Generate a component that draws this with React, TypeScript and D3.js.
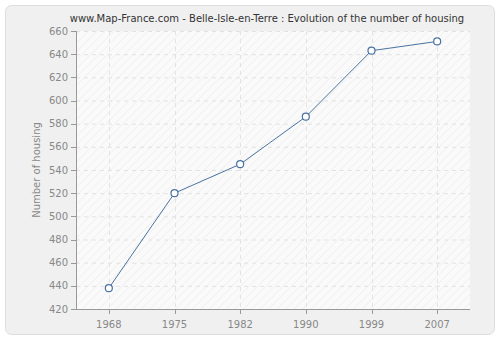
import React from "react";
import * as d3 from "d3";

const years = ["1968", "1975", "1982", "1990", "1999", "2007"];
const housing = [438, 520, 545, 586, 643, 651];
const yTicks = [420, 440, 460, 480, 500, 520, 540, 560, 580, 600, 620, 640, 660];

const W = 500, H = 340;
const left = 76, right = 470, top = 31, bottom = 309;

export default function App() {
  const x = d3.scalePoint<string>().domain(years).range([left, right]).padding(0.5);
  const y = d3.scaleLinear().domain([420, 660]).range([bottom, top]);
  const line = d3.line<number>().x((_, i) => x(years[i])!).y((d) => y(d));
  const font = "DejaVu Sans, Verdana, sans-serif";
  return (
    <svg width={W} height={H} style={{ position: "absolute", left: 0, top: 0 }}>
      <defs>
        <pattern id="hatch" width="6" height="6" patternUnits="userSpaceOnUse" patternTransform="rotate(45)">
          <rect width="6" height="6" fill="#fafafa" />
          <line x1="0" y1="0" x2="0" y2="6" stroke="#eeeeee" strokeWidth="1.5" />
        </pattern>
      </defs>
      <rect x={0} y={0} width={W} height={H} fill="#ffffff" />
      <rect x={5.5} y={5.5} width={489} height={329} rx={6} fill="#f0f0f0" stroke="#dddddd" />
      <rect x={left} y={top} width={right - left} height={bottom - top} fill="url(#hatch)" />
      {yTicks.map((t) => (
        <line key={"g" + t} x1={left} x2={right} y1={y(t) + 0.5} y2={y(t) + 0.5} stroke="#e2e2e2" strokeDasharray="4,4" />
      ))}
      {years.map((yr) => (
        <line key={"v" + yr} x1={Math.round(x(yr)!) + 0.5} x2={Math.round(x(yr)!) + 0.5} y1={top} y2={bottom} stroke="#e2e2e2" strokeDasharray="4,4" />
      ))}
      <line x1={left + 0.5} x2={left + 0.5} y1={top} y2={bottom} stroke="#999" />
      <line x1={left} x2={right} y1={bottom + 0.5} y2={bottom + 0.5} stroke="#999" />
      {yTicks.map((t) => (
        <g key={"y" + t}>
          <line x1={left - 5} x2={left} y1={Math.round(y(t)) + 0.5} y2={Math.round(y(t)) + 0.5} stroke="#999" />
          <text x={left - 8} y={y(t)} dy="0.35em" textAnchor="end" fontSize={10} fill="#888" fontFamily={font}>{t}</text>
        </g>
      ))}
      {years.map((yr) => (
        <g key={"x" + yr}>
          <line x1={Math.round(x(yr)!) + 0.5} x2={Math.round(x(yr)!) + 0.5} y1={bottom} y2={bottom + 5} stroke="#999" />
          <text x={x(yr)} y={bottom + 19} textAnchor="middle" fontSize={10} fill="#888" fontFamily={font}>{yr}</text>
        </g>
      ))}
      <text transform={`translate(40,${(top + bottom) / 2}) rotate(-90)`} textAnchor="middle" fontSize={10} fill="#888" fontFamily={font}>Number of housing</text>
      <text x={267} y={22} textAnchor="middle" fontSize={10} fill="#333" fontFamily={font}>www.Map-France.com - Belle-Isle-en-Terre : Evolution of the number of housing</text>
      <path d={line(housing)!} fill="none" stroke="#4a72a0" strokeWidth={1} />
      {housing.map((v, i) => (
        <circle key={"c" + i} cx={x(years[i])} cy={y(v)} r={3.5} fill="#fff" stroke="#4a72a0" strokeWidth={1.2} />
      ))}
    </svg>
  );
}
